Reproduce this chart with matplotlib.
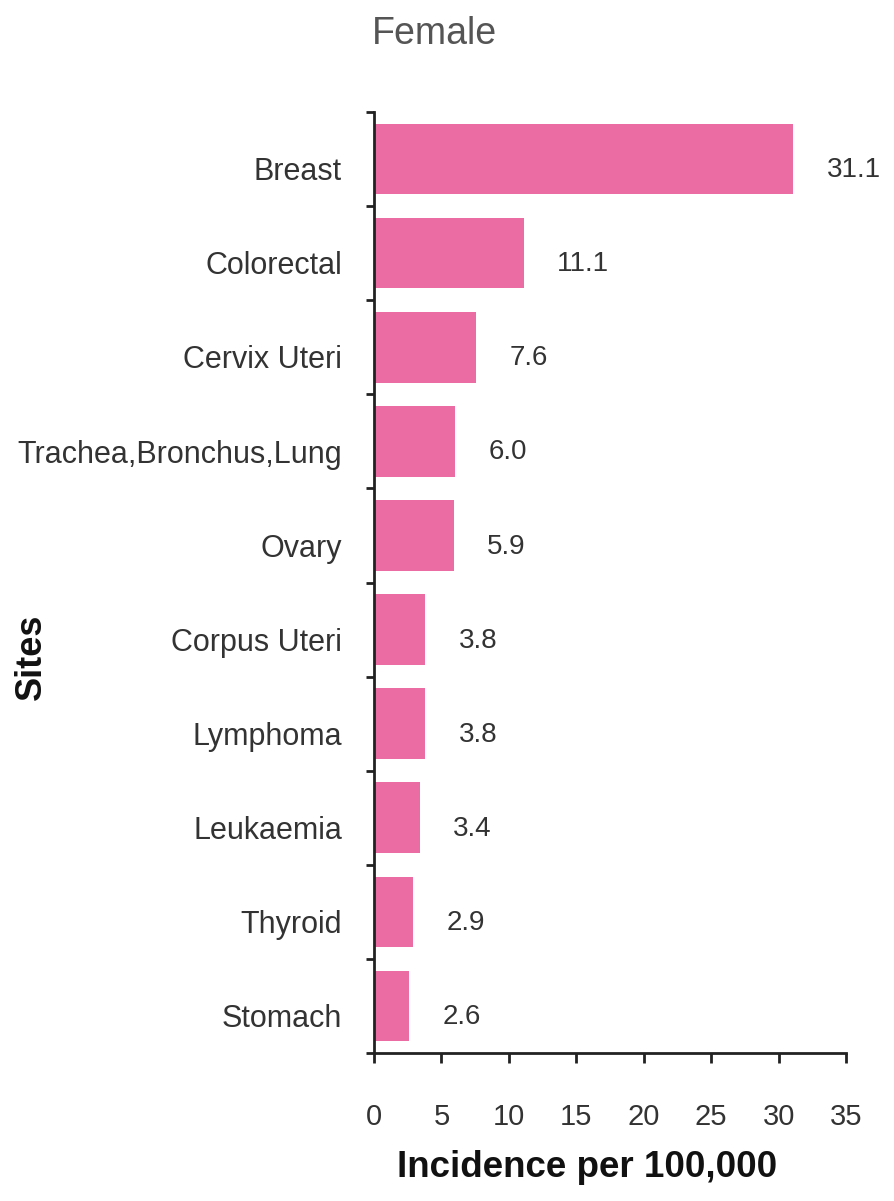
import matplotlib
matplotlib.use("Agg")
import matplotlib.pyplot as plt
from matplotlib.transforms import ScaledTranslation
import numpy as np

sites = ["Breast", "Colorectal", "Cervix Uteri", "Trachea,Bronchus,Lung", "Ovary",
         "Corpus Uteri", "Lymphoma", "Leukaemia", "Thyroid", "Stomach"]
incidence = [31.1, 11.1, 7.6, 6.0, 5.9, 3.8, 3.8, 3.4, 2.9, 2.6]
value_labels = ["31.1", "11.1", "7.6", "6.0", "5.9", "3.8", "3.8", "3.4", "2.9", "2.6"]
x_ticks = [0, 5, 10, 15, 20, 25, 30, 35]
title = "Female"
x_label = "Incidence per 100,000"
y_label = "Sites"

plt.rcParams["font.family"] = ["Liberation Sans", "DejaVu Sans"]

TXT = "#333333"
BAR = "#EB6BA3"

fig = plt.figure(figsize=(8.95, 12.01), dpi=100)
W, H = 895, 1201
left, right, top, bottom = 374, 846, 112, 1053
ax = fig.add_axes([left / W, 1 - bottom / H, (right - left) / W, (bottom - top) / H])

y = np.arange(len(sites))
ax.barh(y, incidence, height=0.75, color=BAR, edgecolor="none")

ax.set_xlim(0, 35)
ax.set_ylim(len(sites) - 0.5, -0.5)

for s in ["top", "right"]:
    ax.spines[s].set_visible(False)
for s in ["left", "bottom"]:
    ax.spines[s].set_linewidth(2)
    ax.spines[s].set_color("#222222")

ax.set_xticks(x_ticks)
ax.set_xticklabels([str(t) for t in x_ticks])
ax.tick_params(axis="x", direction="out", length=7, width=2, color="#222222",
               pad=29, labelsize=21, labelcolor=TXT)

ax.set_yticks(y)
ax.set_yticklabels(sites)
ax.tick_params(axis="y", which="major", length=0, pad=23, labelsize=22, labelcolor=TXT)
ax.set_yticks(np.arange(-0.5, len(sites), 1.0), minor=True)
ax.tick_params(axis="y", which="minor", direction="out", length=6, width=2, color="#222222")

off = ScaledTranslation(0, -7 / 72, fig.dpi_scale_trans)
for lab in ax.get_yticklabels():
    lab.set_transform(lab.get_transform() + off)

for yi, v, t in zip(y, incidence, value_labels):
    ax.annotate(t, xy=(v, yi), xytext=(24, -8), textcoords="offset points",
                ha="left", va="center", fontsize=20, color=TXT)

ax.text(0.127, 1.083, title, transform=ax.transAxes, ha="center", va="center",
        fontsize=27, color="#555555")

ax.set_xlabel(x_label, fontsize=26.5, fontweight="bold", color="#111111")
ax.xaxis.set_label_coords(0.451, -0.122)
ax.xaxis.label.set_va("center")

ax.set_ylabel(y_label, fontsize=26, fontweight="bold", color="#111111")
ax.yaxis.set_label_coords(-0.725, 0.421)
ax.yaxis.label.set_va("center")

fig.savefig("out.png", dpi=100, facecolor="white")
